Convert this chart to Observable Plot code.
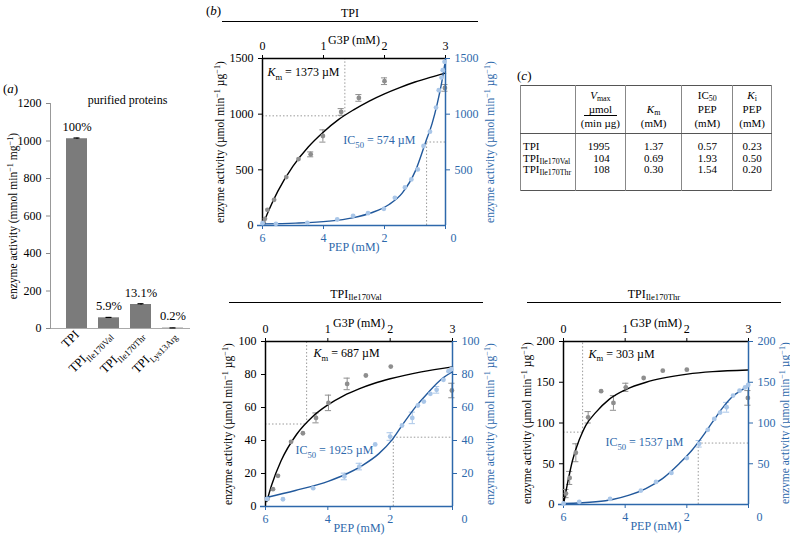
<!DOCTYPE html>
<html><head><meta charset="utf-8">
<script src="https://cdn.jsdelivr.net/npm/d3@7"></script>
<script src="https://cdn.jsdelivr.net/npm/@observablehq/plot@0.6"></script>
<style>
html,body{margin:0;padding:0;background:#fff;}
#fig{position:relative;width:790px;height:537px;overflow:hidden;font-family:"Liberation Serif","Times New Roman",serif;color:#000;}
#fig svg{position:absolute;overflow:visible;background:transparent;font-family:"Liberation Serif","Times New Roman",serif !important;font-size:12px;}
#fig svg text, #fig svg tspan, #fig svg g{font-family:"Liberation Serif","Times New Roman",serif !important;}
.plabel{position:absolute;font-size:13px;line-height:13px;}
.ptitle{position:absolute;text-align:center;font-size:12px;line-height:12px;border-bottom:1.5px solid #000;padding-bottom:2px;}
sub{font-size:72%;vertical-align:-0.28em;line-height:0;}
#tbl{position:absolute;left:520px;top:85px;width:252px;border-collapse:collapse;border:1px solid #555;font-size:11px;line-height:11.7px;}
#tbl td{padding:0;border-left:1px solid #888;border-right:1px solid #888;text-align:center;}
#tbl tr.head td{height:44px;vertical-align:bottom;padding-bottom:3px;border-bottom:1px solid #555;line-height:14px;}
#tbl td.name{text-align:left;padding-left:2px;}
#tbl td.vmax{text-align:right;padding-right:15px;}
#tbl tr.r0 td{padding-top:7px;}
#tbl tr.r2 td{padding-bottom:14px;}
.frac{display:inline-block;border-bottom:1px solid #000;padding:0 5px;line-height:12px;}
</style>
</head><body>
<div id="fig"></div>
<script>
// ---------- Panel (a): purified proteins ----------
const proteins = ["TPI", "TPI_{Ile170Val}", "TPI_{Ile170Thr}", "TPI_{Lys13Arg}"];
const activity = [1012, 57, 128, 2];
const activityErr = [4, 2, 4, 1];
const percentLabels = ["100%", "5.9%", "13.1%", "0.2%"];
const yTicksA = [0, 200, 400, 600, 800, 1000, 1200];

// ---------- Panel (b): TPI ----------
const tpiG3P = [0.02, 0.04, 0.08, 0.19, 0.39, 0.59, 0.79, 0.99, 1.29, 1.58, 2.0, 2.99];
const tpiG3PActivity = [25, 60, 141, 231, 435, 597, 639, 804, 1020, 1146, 1296, 1236];
const tpiG3PError = [0, 0, 0, 0, 0, 0, 22, 55, 30, 30, 30, 30];
const tpiFitG3P = [0, 0.1, 0.25, 0.5, 0.75, 1, 1.25, 1.5, 1.75, 2, 2.25, 2.5, 2.75, 3];
const tpiFitG3PActivity = [0, 133, 307, 533, 705, 840, 953, 1041, 1118, 1183, 1239, 1289, 1331, 1369];
const tpiPEP = [6.0, 5.56, 4.53, 3.55, 3.03, 2.54, 2.02, 1.66, 1.33, 1.12, 0.91, 0.72, 0.51, 0.31, 0.22, 0.13, 0.09, 0.03];
const tpiPEPActivity = [21, 15, 24, 54, 87, 111, 150, 249, 342, 414, 504, 714, 843, 1059, 1215, 1329, 1395, 1470];
const tpiPEPError = [0, 0, 0, 0, 0, 0, 0, 0, 0, 0, 0, 0, 0, 0, 0, 0, 0, 0];
const tpiFitPEP = [6.0, 4.91, 3.82, 3.05, 2.4, 1.85, 1.42, 0.98, 0.65, 0.44, 0.27, 0.11, 0.0];
const tpiFitPEPActivity = [15, 21, 39, 69, 117, 189, 291, 495, 750, 915, 1095, 1305, 1491];

// ---------- TPI Ile170Val ----------
const valG3P = [0.03, 0.12, 0.2, 0.41, 0.6, 0.81, 1.01, 1.31, 1.61, 2.01, 2.99];
const valG3PActivity = [4.6, 10.5, 18.6, 39.2, 44.4, 53.7, 62.8, 74.3, 79.4, 84.8, 70.3];
const valG3PError = [0, 0, 0, 0, 0, 3, 4.7, 3.5, 0, 0, 4.4];
const valFitG3P = [0.02, 0.1, 0.25, 0.5, 0.75, 1, 1.25, 1.5, 1.75, 2, 2.5, 3];
const valFitG3PActivity = [3, 13.2, 27.7, 43.8, 54.3, 61.6, 67.1, 71.3, 74.7, 77.4, 81.6, 84.6];
const valPEP = [5.95, 5.44, 4.47, 3.47, 2.99, 2.48, 2.0, 1.62, 1.29, 1.11, 0.92, 0.71, 0.51, 0.29, 0.13, 0.04];
const valPEPActivity = [4.6, 4.4, 11.1, 18.2, 24.2, 37.6, 42.4, 49.1, 53.7, 61.2, 63.6, 68.3, 70.7, 76.8, 82, 83.2];
const valPEPError = [0, 0, 0, 2, 2, 0, 2.3, 0, 3.5, 0, 0, 0, 2, 0, 0, 0];
const valFitPEP = [6.0, 5.04, 3.97, 3.44, 2.9, 2.37, 1.94, 1.62, 1.19, 0.77, 0.34, 0.02];
const valFitPEPActivity = [5.3, 9.7, 15.4, 19.4, 24.8, 31.9, 40.4, 49.1, 60.2, 69.3, 77.4, 81.4];

// ---------- TPI Ile170Thr ----------
const thrG3P = [0.04, 0.1, 0.2, 0.4, 0.61, 0.81, 1.01, 1.3, 1.61, 2.0, 2.99];
const thrG3PActivity = [13.4, 32.6, 63.5, 107, 139, 124.6, 143.8, 155.2, 164.2, 165.4, 130.8];
const thrG3PError = [5, 8, 11, 7, 0, 9, 5, 0, 0, 0, 9];
const thrFitG3P = [0, 0.065, 0.146, 0.254, 0.31, 0.362, 0.524, 0.74, 1.01, 1.34, 1.61, 2.01, 2.42, 2.99];
const thrFitG3PActivity = [0, 26, 54, 79, 89, 97, 113, 129, 141, 150, 155, 160, 163, 165];
const thrPEP = [6.0, 5.49, 4.49, 3.49, 3.0, 2.5, 2.0, 1.6, 1.32, 1.11, 0.92, 0.71, 0.5, 0.29, 0.11, 0.01];
const thrPEPActivity = [1.2, 3.3, 6.9, 17.1, 27.7, 38.7, 57, 74.5, 91.6, 105, 112.8, 119.3, 133.6, 139.7, 143.8, 146.6];
const thrPEPError = [0, 0, 0, 0, 0, 0, 0, 4, 0, 0, 0, 6, 0, 0, 0, 0];
const thrFitPEP = [6.0, 4.95, 4.41, 3.87, 3.33, 2.79, 2.25, 1.82, 1.49, 1.17, 0.84, 0.52, 0.2, 0.01];
const thrFitPEPActivity = [1.2, 3.3, 6.1, 11.4, 19.6, 31.8, 50.1, 67.2, 83.5, 101, 118.5, 132.4, 140.9, 145.8];

// ---------- Panel (c): table ----------
const tableNames = ["TPI", "TPI_{Ile170Val}", "TPI_{Ile170Thr}"];
const tableVmax = ["1995", "104", "108"];
const tableKm = ["1.37", "0.69", "0.30"];
const tableIC50 = ["0.57", "1.93", "1.54"];
const tableKi = ["0.23", "0.50", "0.20"];

// ---------- styles ----------
const BLUE = "#2d68ab";
const BLUE_LINE = "#22599c";
const BLUE_PT = "#a9c6e8";
const GREY_PT = "#8e8e8e";
const DOT = "#9a9a9a";
const fig = document.getElementById("fig");
const svgStyle = color => ({background: "transparent", overflow: "visible", color});

function richSVG(root) {
  d3.select(root).selectAll("text").each(function() {
    if (this.querySelector("tspan")) return;
    const s = this.textContent;
    if (!/(_\{|\^\{|\*)/.test(s)) return;
    const parts = s.split(/(\*[^*]+\*|_\{[^}]*\}|\^\{[^}]*\})/).filter(p => p !== "");
    const fs = parseFloat(getComputedStyle(this).fontSize) || 11;
    this.textContent = "";
    let shift = 0;
    for (const p of parts) {
      const t = document.createElementNS("http://www.w3.org/2000/svg", "tspan");
      let target = 0, txt = p;
      if (p.startsWith("_{")) { target = fs * 0.3; txt = p.slice(2, -1); t.style.fontSize = "0.72em"; }
      else if (p.startsWith("^{")) { target = -fs * 0.38; txt = p.slice(2, -1); t.style.fontSize = "0.72em"; }
      else if (p.length > 2 && p.startsWith("*") && p.endsWith("*")) { txt = p.slice(1, -1); t.style.fontStyle = "italic"; }
      if (target !== shift) { t.setAttribute("dy", (target - shift).toFixed(2)); shift = target; }
      t.textContent = txt;
      this.appendChild(t);
    }
  });
}
function richHTML(s) {
  return s.replace(/\*([^*]+)\*/g, "<i>$1</i>").replace(/_\{([^}]*)\}/g, "<sub>$1</sub>");
}
function place(node, left, top) {
  node.style.position = "absolute";
  node.style.left = left + "px";
  node.style.top = top + "px";
  fig.appendChild(node);
  richSVG(node);
}
function label(html, left, top) {
  const d = document.createElement("div");
  d.className = "plabel";
  d.style.left = left + "px"; d.style.top = top + "px";
  d.innerHTML = html;
  fig.appendChild(d);
}
function title(html, left, width, top) {
  const d = document.createElement("div");
  d.className = "ptitle";
  d.style.left = left + "px"; d.style.top = top + "px"; d.style.width = width + "px";
  d.innerHTML = richHTML(html);
  fig.appendChild(d);
}

// ---------- draw panel (a) ----------
const barData = proteins.map((p, i) => ({p, v: activity[i], e: activityErr[i], lab: percentLabels[i]}));
const pa = Plot.plot({
  width: 192, height: 300,
  marginLeft: 50, marginRight: 2, marginTop: 23, marginBottom: 52,
  style: svgStyle("#000"),
  x: {domain: proteins, range: [59.6, 188.8], paddingInner: 0.334, paddingOuter: 0.167, label: null},
  y: {domain: [0, 1200], label: null},
  marks: [
    Plot.ruleY([0], {stroke: "#aaa"}),
    Plot.frame({anchor: "left", stroke: "#999"}),
    Plot.barY(barData, {x: "p", y: "v", fill: "#7b7b7b"}),
    Plot.ruleX(barData, {x: "p", y1: d => d.v - d.e, y2: d => d.v + d.e, stroke: "#000"}),
    Plot.tickY(barData, {x: "p", y: d => d.v + d.e, inset: 7.5, stroke: "#000", strokeWidth: 1.2}),
    Plot.text(barData, {x: "p", y: "v", text: "lab", lineAnchor: "bottom", dy: -8, fontSize: 12.5}),
    Plot.text(["purified proteins"], {text: d => d, frameAnchor: "top", textAnchor: "middle", dx: 7, dy: -8, fontSize: 12}),
    Plot.axisY({ticks: yTicksA, tickSize: 4, tickFormat: d => String(d), stroke: "#888", label: null, fontSize: 12}),
    Plot.axisX({tickRotate: -45, tickSize: 0, tickPadding: 4, label: null, fontSize: 12.5}),
    Plot.text(["enzyme activity (mmol min^{−1} mg^{−1})"], {text: d => d, frameAnchor: "left", textAnchor: "middle", rotate: -90, dx: -37, fontSize: 11.5})
  ]
});
place(pa, 0, 80);
label("(<i>a</i>)", 3, 82);

// ---------- kinetics panels ----------
function kinetics(cfg) {
  const mL = 67, mR = 45, mT = 58, mB = 32;
  const width = (cfg.R - cfg.L) + mL + mR, height = (cfg.B - cfg.T) + mT + mB;
  const common = {width, height, marginLeft: mL, marginRight: mR, marginTop: mT, marginBottom: mB};
  const ymax = cfg.ymax;
  const g = cfg.g3p.map((x, i) => ({x, v: cfg.g3pV[i], e: cfg.g3pE[i]}));
  const gErr = g.filter(d => d.e > 0);
  const gFit = cfg.fitG.map((x, i) => ({x, v: cfg.fitGV[i]}));
  const p = cfg.pep.map((x, i) => ({x, v: cfg.pepV[i], e: cfg.pepE[i]}));
  const pErr = p.filter(d => d.e > 0);
  const pFit = cfg.fitP.map((x, i) => ({x, v: cfg.fitPV[i]}));
  const yLab = "enzyme activity (µmol min^{−1} µg^{−1})";
  const capG = 0.05, capP = 0.1;
  const dotted = {stroke: DOT, strokeWidth: 1, strokeDasharray: "1.5,2"};
  const fs = 12;

  const black = Plot.plot({
    ...common,
    style: svgStyle("#000"),
    x: {domain: [0, 3], label: null},
    y: {domain: [0, ymax], label: null},
    marks: [
      Plot.ruleX([cfg.km], {x: d => d, y1: () => cfg.kmV, y2: () => ymax, ...dotted}),
      Plot.ruleY([cfg.kmV], {y: d => d, x1: () => 0, x2: () => cfg.km, ...dotted}),
      Plot.ruleY([ymax], {y: d => d, stroke: "#000", strokeWidth: 1.5}),
      Plot.ruleX([0], {x: d => d, stroke: "#000", strokeWidth: 1.5}),
      Plot.axisX({anchor: "top", ticks: [0, 1, 2, 3], tickSize: 4, tickFormat: d => String(d), label: null, fontSize: fs}),
      Plot.axisY({anchor: "left", ticks: cfg.yTicks, tickSize: 4, tickFormat: d => String(d), label: null, fontSize: fs}),
      Plot.text(["G3P (mM)"], {text: d => d, frameAnchor: "top", textAnchor: "middle", dy: -23, fontSize: 12}),
      Plot.text([yLab], {text: d => d, frameAnchor: "left", textAnchor: "middle", rotate: -90, dx: cfg.ldx, fontSize: 11.5}),
      Plot.ruleX(gErr, {x: "x", y1: d => d.v - d.e, y2: d => d.v + d.e, stroke: GREY_PT}),
      Plot.ruleY(gErr, {y: d => d.v + d.e, x1: d => d.x - capG, x2: d => d.x + capG, stroke: GREY_PT}),
      Plot.ruleY(gErr, {y: d => d.v - d.e, x1: d => d.x - capG, x2: d => d.x + capG, stroke: GREY_PT}),
      Plot.line(gFit, {x: "x", y: "v", curve: "monotone-x", stroke: "#000", strokeWidth: 1.4}),
      Plot.dot(g, {x: "x", y: "v", r: 2.4, fill: GREY_PT}),
      Plot.text([cfg.kmText], {x: "x", y: "y", text: "t", textAnchor: "start", fontSize: 12, fill: "#000"})
    ]
  });
  const blue = Plot.plot({
    ...common,
    style: svgStyle(BLUE),
    x: {domain: [6, 0], label: null},
    y: {domain: [0, ymax], label: null},
    marks: [
      Plot.ruleX([cfg.ic], {x: d => d, y1: () => 0, y2: () => cfg.icV, ...dotted}),
      Plot.ruleY([cfg.icV], {y: d => d, x1: () => cfg.ic, x2: () => 0, ...dotted}),
      Plot.ruleY([0], {y: d => d, stroke: BLUE, strokeWidth: 1.5, insetLeft: -5}),
      Plot.ruleX([0], {x: d => d, stroke: BLUE, strokeWidth: 1.5}),
      Plot.axisX({anchor: "bottom", ticks: [6, 4, 2, 0], tickSize: 4, tickPadding: 4, tickFormat: d => d === 0 ? "" : String(d), label: null, fontSize: fs}),
      Plot.text([0], {x: d => d, y: () => 0, text: d => String(d), lineAnchor: "top", dx: cfg.zeroDx, dy: 8, fill: BLUE, fontSize: fs}),
      Plot.axisY({anchor: "right", ticks: cfg.rightTicks, tickSize: 4, tickFormat: d => String(d), label: null, fontSize: fs}),
      Plot.text(["PEP (mM)"], {text: d => d, frameAnchor: "bottom", textAnchor: "middle", dy: 25, fontSize: 12, fill: BLUE}),
      Plot.text([yLab], {text: d => d, frameAnchor: "right", textAnchor: "middle", rotate: -90, dx: cfg.rdx, fontSize: 11.5, fill: BLUE}),
      Plot.ruleX(pErr, {x: "x", y1: d => d.v - d.e, y2: d => d.v + d.e, stroke: BLUE_PT}),
      Plot.ruleY(pErr, {y: d => d.v + d.e, x1: d => d.x - capP, x2: d => d.x + capP, stroke: BLUE_PT}),
      Plot.ruleY(pErr, {y: d => d.v - d.e, x1: d => d.x - capP, x2: d => d.x + capP, stroke: BLUE_PT}),
      Plot.line(pFit, {x: "x", y: "v", curve: "monotone-x", stroke: BLUE_LINE, strokeWidth: 1.4}),
      Plot.dot(p, {x: "x", y: "v", r: 2.4, fill: BLUE_PT}),
      Plot.text([cfg.icText], {x: "x", y: "y", text: "t", textAnchor: "start", fontSize: 12, fill: BLUE})
    ]
  });
  place(black, cfg.L - mL, cfg.T - mT);
  place(blue, cfg.L - mL, cfg.T - mT);
}

kinetics({
  L: 262, R: 445, T: 58, B: 225, ymax: 1500,
  yTicks: [0, 500, 1000, 1500], rightTicks: [500, 1000, 1500],
  g3p: tpiG3P, g3pV: tpiG3PActivity, g3pE: tpiG3PError, fitG: tpiFitG3P, fitGV: tpiFitG3PActivity,
  pep: tpiPEP, pepV: tpiPEPActivity, pepE: tpiPEPError, fitP: tpiFitPEP, fitPV: tpiFitPEPActivity,
  km: 1.35, kmV: 985, ic: 0.62, icV: 750,
  kmText: {x: 0.08, y: 1374, t: "*K*_{m} = 1373 µM"},
  icText: {x: 3.35, y: 765, t: "IC_{50} = 574 µM"},
  ldx: -42, rdx: 45, zeroDx: 8
});
kinetics({
  L: 265, R: 452, T: 341, B: 506, ymax: 100,
  yTicks: [0, 20, 40, 60, 80, 100], rightTicks: [20, 40, 60, 80, 100],
  g3p: valG3P, g3pV: valG3PActivity, g3pE: valG3PError, fitG: valFitG3P, fitGV: valFitG3PActivity,
  pep: valPEP, pepV: valPEPActivity, pepE: valPEPError, fitP: valFitPEP, fitPV: valFitPEPActivity,
  km: 0.66, kmV: 50, ic: 1.9, icV: 42,
  kmText: {x: 0.77, y: 92.7, t: "*K*_{m} = 687 µM"},
  icText: {x: 5.04, y: 34, t: "IC_{50} = 1925 µM"},
  ldx: -37, rdx: 38, zeroDx: 12
});
kinetics({
  L: 563, R: 748, T: 341, B: 504, ymax: 200,
  yTicks: [0, 50, 100, 150, 200], rightTicks: [50, 100, 150, 200],
  g3p: thrG3P, g3pV: thrG3PActivity, g3pE: thrG3PError, fitG: thrFitG3P, fitGV: thrFitG3PActivity,
  pep: thrPEP, pepV: thrPEPActivity, pepE: thrPEPError, fitP: thrFitPEP, fitPV: thrFitPEPActivity,
  km: 0.31, kmV: 88.8, ic: 1.63, icV: 75.4,
  kmText: {x: 0.405, y: 185, t: "*K*_{m} = 303 µM"},
  icText: {x: 4.64, y: 76, t: "IC_{50} = 1537 µM"},
  ldx: -36, rdx: 37, zeroDx: 11
});

label("(<i>b</i>)", 206, 4);
title("TPI", 222, 256, 7);
title("TPI_{Ile170Val}", 229, 254, 287.5);
title("TPI_{Ile170Thr}", 527, 254, 287.5);

// ---------- table (c) ----------
label("(<i>c</i>)", 517, 69);
const tbl = document.createElement("table");
tbl.id = "tbl";
const colW = [55, 50, 57, 51, 39];
let html = "<colgroup>" + colW.map(w => `<col style="width:${w}px">`).join("") + "</colgroup>";
html += '<tr class="head"><td></td>'
  + '<td><i>V</i><sub>max</sub><br><span class="frac">µmol</span><br>(min µg)</td>'
  + '<td><i>K</i><sub>m</sub><br>(mM)</td>'
  + '<td>IC<sub>50</sub><br>PEP<br>(mM)</td>'
  + '<td><i>K</i><sub>i</sub><br>PEP<br>(mM)</td></tr>';
tableNames.forEach((n, i) => {
  html += `<tr class="r${i}"><td class="name">${richHTML(n)}</td><td class="vmax">${tableVmax[i]}</td><td>${tableKm[i]}</td><td>${tableIC50[i]}</td><td>${tableKi[i]}</td></tr>`;
});
tbl.innerHTML = html;
fig.appendChild(tbl);
</script>
</body></html>
